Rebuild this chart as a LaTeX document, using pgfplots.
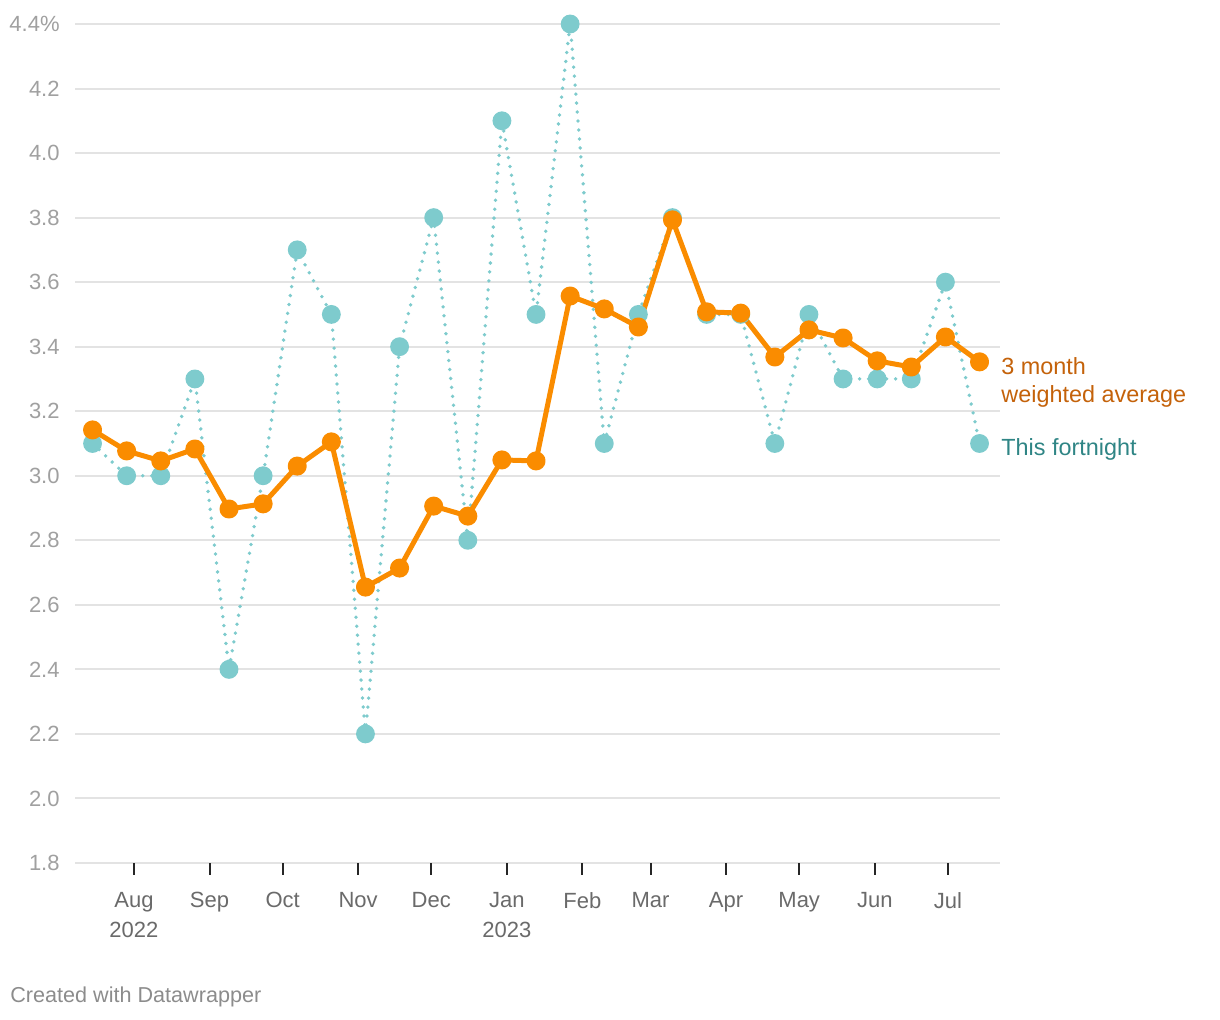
\documentclass[border=0pt]{standalone}
\usepackage{pgfplots}
\pgfplotsset{compat=1.18}
\usepackage{pgfplotstable}
\usepackage{fontspec}
\setmainfont{Liberation Sans}
\definecolor{gridc}{HTML}{E3E3E3}
\definecolor{ylab}{HTML}{A0A0A0}
\definecolor{xlab}{HTML}{6A6A6A}
\definecolor{tealdot}{HTML}{7ECBCD}
\definecolor{orangeln}{HTML}{FA8C00}
\definecolor{orangetxt}{HTML}{C4620A}
\definecolor{tealtxt}{HTML}{2F8585}
\definecolor{credit}{HTML}{8C8C8C}
\pgfplotstableread{
x fort avg
-17 3.1 3.142
-3 3.0 3.077
11 3.0 3.046
25 3.3 3.083
39 2.4 2.897
53 3.0 2.913
67 3.7 3.030
81 3.5 3.105
95 2.2 2.655
109 3.4 2.714
123 3.8 2.906
137 2.8 2.875
151 4.1 3.049
165 3.5 3.046
179 4.4 3.557
193 3.1 3.517
207 3.5 3.461
221 3.8 3.793
235 3.5 3.508
249 3.5 3.504
263 3.1 3.368
277 3.5 3.452
291 3.3 3.427
305 3.3 3.356
319 3.3 3.337
333 3.6 3.430
347 3.1 3.353
}\data
\begin{document}
\begin{tikzpicture}
\path[use as bounding box] (-37.5pt,-78.5pt) rectangle (572.5pt,431.5pt);
\begin{axis}[
  at={(0,0)}, anchor=south west,
  scale only axis, width=462.5pt, height=419.5pt,
  xmin=-24.2, xmax=355.4, ymin=1.8, ymax=4.4,
  clip=false,
  axis line style={draw=none},
  ymajorgrids, grid style={gridc, line width=1pt},
  ytick={1.8,2.0,2.2,2.4,2.6,2.8,3.0,3.2,3.4,3.6,3.8,4.0,4.2,4.4},
  yticklabels={1.8,2.0,2.2,2.4,2.6,2.8,3.0,3.2,3.4,3.6,3.8,4.0,4.2,4.4\%},
  ytick style={draw=none},
  tick align=outside, major tick length=6pt,
  xtick={0,31,61,92,122,153,184,212,243,273,304,334},
  xticklabels={Aug\\2022,Sep,Oct,Nov,Dec,Jan\\2023,Feb,Mar,Apr,May,Jun,Jul},
  xtick style={black!85, line width=1pt},
  xtick pos=bottom, ytick pos=left,
  tick label style={font=\fontsize{11}{15}\selectfont},
  yticklabel style={text=ylab, anchor=east, inner sep=0pt, xshift=-1.5pt},
  xticklabel style={text=xlab, align=center, anchor=north, inner sep=0pt, yshift=-8.5pt},
  /pgf/number format/assume math mode=true,
]
\addplot[tealdot, line width=1.9pt, dash pattern=on 0pt off 4.5pt, line cap=round,
  mark=*, mark size=3.75pt, mark options={solid, draw=none, fill=tealdot}]
  table[x=x, y=fort]{\data};
\addplot[orangeln, line width=2.5pt, line join=round,
  mark=*, mark size=3.5pt, mark options={solid, draw=none, fill=orangeln}]
  table[x=x, y=avg]{\data};
\node[anchor=west, align=left, text=orangetxt, inner sep=0pt, xshift=0.5pt,
  font=\fontsize{11.7}{14}\selectfont] at (axis cs:355.4,3.290) {3 month\\weighted average};
\node[anchor=west, text=tealtxt, inner sep=0pt, xshift=0.5pt,
  font=\fontsize{11.7}{14}\selectfont] at (axis cs:355.4,3.080) {This fortnight};
\end{axis}
\node[anchor=west, text=credit, inner sep=0pt, font=\fontsize{10.8}{13}\selectfont]
  at (-32.5pt,-67pt) {Created with Datawrapper};
\end{tikzpicture}
\end{document}
